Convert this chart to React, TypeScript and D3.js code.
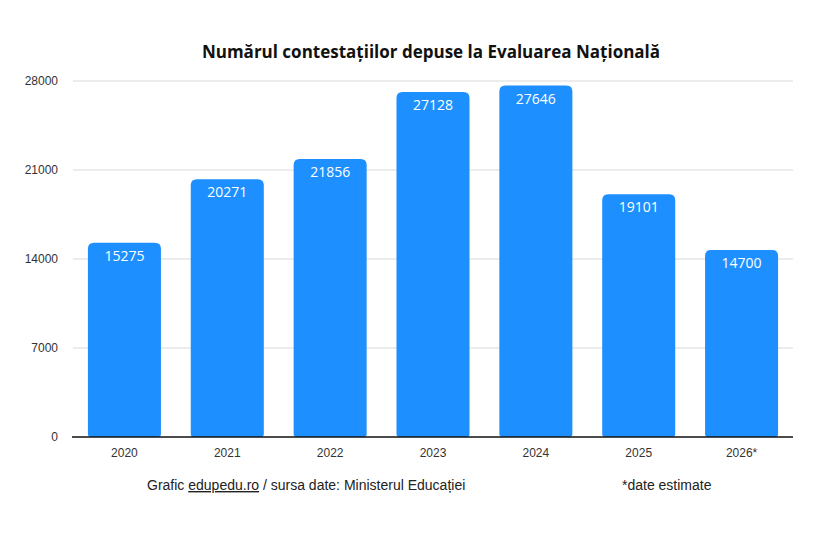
import React from "react";
import * as d3 from "d3";

const years = ["2020", "2021", "2022", "2023", "2024", "2025", "2026*"];
const values = [15275, 20271, 21856, 27128, 27646, 19101, 14700];
const yTicks = [0, 7000, 14000, 21000, 28000];

const W = 820, H = 541;
const M = { left: 73, right: 27, top: 81, bottom: 104 };

function roundedBar(x: number, y: number, w: number, h: number, r: number) {
  const rb = Math.min(3, h / 2);
  const rt = Math.min(r, h / 2);
  return `M${x},${y + rt}Q${x},${y} ${x + rt},${y}L${x + w - rt},${y}Q${x + w},${y} ${x + w},${y + rt}L${x + w},${y + h - rb}Q${x + w},${y + h} ${x + w - rb},${y + h}L${x + rb},${y + h}Q${x},${y + h} ${x},${y + h - rb}Z`;
}

export default function App() {
  const x = d3.scaleBand<string>().domain(years).range([M.left, W - M.right]).paddingInner(0.29).paddingOuter(0.145);
  const y = d3.scaleLinear().domain([0, 28000]).range([H - M.bottom, M.top]);
  const font = "Helvetica, Arial, 'Liberation Sans', sans-serif";
  return (
    <svg width={W} height={H} style={{ position: "absolute", left: 0, top: 0, background: "#fff" }}>
      <text x={431} y={58} textAnchor="middle" fontFamily="'Open Sans', 'Noto Sans', sans-serif" fontWeight={700} fontSize={17} fill="#111">
        Numărul contestațiilor depuse la Evaluarea Națională
      </text>
      {yTicks.map((t) => (
        <g key={t}>
          {t > 0 && <line x1={M.left} x2={W - M.right} y1={y(t)} y2={y(t)} stroke="#d9d9d9" strokeWidth={1} />}
          <text x={58} y={y(t) + 4} textAnchor="end" fontFamily={font} fontSize={12} fill="#333">{t}</text>
        </g>
      ))}
      {years.map((yr, i) => (
        <g key={yr}>
          <path d={roundedBar(x(yr)!, y(values[i]), x.bandwidth(), y(0) - y(values[i]), 6)} fill="#1e8fff" />
          <text x={x(yr)! + x.bandwidth() / 2} y={y(values[i]) + 18} textAnchor="middle" fontFamily="'Open Sans', 'Noto Sans', sans-serif" fontSize={14} fill="#fff">{values[i]}</text>
          <text x={x(yr)! + x.bandwidth() / 2} y={y(0) + 20} textAnchor="middle" fontFamily={font} fontSize={12} fill="#333">{yr}</text>
        </g>
      ))}
      <line x1={M.left - 1} x2={W - M.right} y1={y(0)} y2={y(0)} stroke="#111" strokeWidth={1.5} />
      <text x={147} y={490} fontFamily={font} fontSize={14} fill="#222">
        Grafic <tspan textDecoration="underline">edupedu.ro</tspan> / sursa date: Ministerul Educației
      </text>
      <text x={622} y={490} fontFamily={font} fontSize={14} fill="#222">*date estimate</text>
    </svg>
  );
}
